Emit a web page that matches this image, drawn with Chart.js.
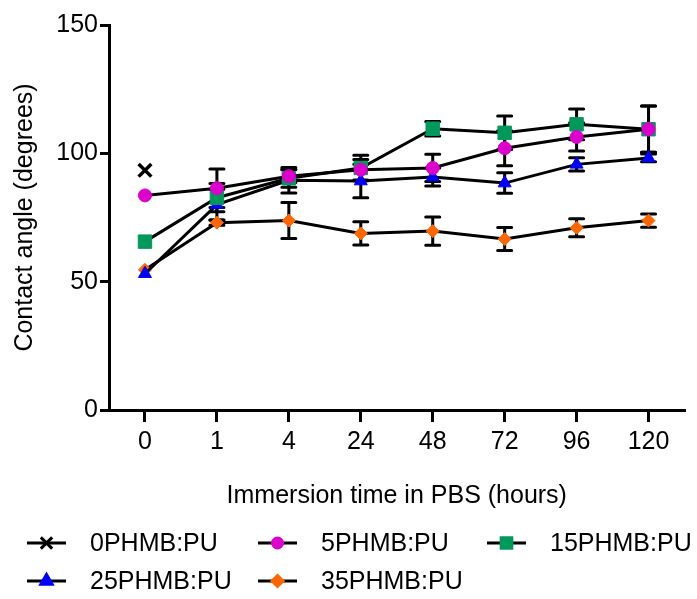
<!DOCTYPE html>
<html>
<head>
<meta charset="utf-8">
<script src="https://cdn.jsdelivr.net/npm/chart.js@4.4.1/dist/chart.umd.min.js"></script>
<style>
  html, body { margin: 0; padding: 0; background: #fff; }
  #wrap { width: 697px; height: 599px; }
</style>
</head>
<body>
<div id="wrap"><canvas id="chart"></canvas></div>
<script>
// categories (hours in PBS)
const timeLabels = ['0', '1', '4', '24', '48', '72', '96', '120'];
const seriesNames = ['0PHMB:PU', '5PHMB:PU', '15PHMB:PU', '25PHMB:PU', '35PHMB:PU'];
const yTicks = [0, 50, 100, 150];

// mean contact angle and error (degrees)
const pu0 = [93.4, null, null, null, null, null, null, null];
const pu0Err = [0, 0, 0, 0, 0, 0, 0, 0];
const pu5 = [83.6, 86.4, 91.1, 93.6, 94.3, 102.0, 106.4, 109.4];
const pu5Err = [0, 7.5, 2.5, 4.0, 5.3, 6.8, 5.5, 9.0];
const pu15 = [65.6, 82.7, 90.3, 94.3, 109.6, 108.0, 111.3, 109.4];
const pu15Err = [0, 5.5, 3.5, 5.0, 2.8, 6.5, 6.0, 9.0];
const pu25 = [53.1, 80.0, 89.5, 89.2, 90.8, 88.4, 95.7, 98.2];
const pu25Err = [0, 6.0, 5.0, 6.5, 3.5, 4.0, 2.6, 1.5];
const pu35 = [54.6, 73.0, 73.8, 68.8, 69.7, 66.6, 71.0, 73.8];
const pu35Err = [0, 1.0, 7.0, 4.5, 5.5, 4.5, 3.5, 2.6];

const FONT = "'Liberation Sans', Arial, sans-serif";

const styles = [
    { pointStyle: 'crossRot', radius: 9, color: '#000000', legendRadius: 8 },
    { pointStyle: 'circle', radius: 6.5, color: '#dd00cc', legendRadius: 5 },
    { pointStyle: 'rect', radius: 9.5, color: '#00995c', legendRadius: 7.5 },
    { pointStyle: 'triangle', radius: 7.5, color: '#0000ff', legendRadius: 6.5 },
    { pointStyle: 'rectRot', radius: 6.5, color: '#ff6600', legendRadius: 5.5 }
];
const values = [pu0, pu5, pu15, pu25, pu35];
const errors = [pu0Err, pu5Err, pu15Err, pu25Err, pu35Err];

const datasets = seriesNames.map(function (name, i) {
    const s = styles[i];
    return {
        label: name,
        data: values[i],
        errors: errors[i],
        borderColor: '#000',
        borderWidth: 3,
        tension: 0,
        pointStyle: s.pointStyle,
        pointRadius: s.radius,
        pointHoverRadius: s.radius,
        pointBackgroundColor: s.color,
        pointBorderColor: s.color,
        pointBorderWidth: i === 0 ? 3.5 : 1
    };
});

// error bars drawn under the lines and markers
const errorBars = {
    id: 'errorBars',
    beforeDatasetsDraw(chart) {
        const ctx = chart.ctx;
        const y = chart.scales.y;
        ctx.save();
        ctx.strokeStyle = '#000';
        ctx.lineWidth = 3;
        ctx.lineCap = 'round';
        chart.data.datasets.forEach(function (ds, i) {
            const meta = chart.getDatasetMeta(i);
            meta.data.forEach(function (pt, j) {
                const v = ds.data[j], e = ds.errors[j];
                if (v == null || !e) return;
                const top = y.getPixelForValue(v + e);
                const bot = y.getPixelForValue(v - e);
                ctx.beginPath();
                ctx.moveTo(pt.x, top); ctx.lineTo(pt.x, bot);
                ctx.moveTo(pt.x - 7, top); ctx.lineTo(pt.x + 7, top);
                ctx.moveTo(pt.x - 7, bot); ctx.lineTo(pt.x + 7, bot);
                ctx.stroke();
            });
        });
        ctx.restore();
    }
};

// legend in a fixed 3-column grid like the original
const gridLegend = {
    id: 'gridLegend',
    afterDraw(chart) {
        const ctx = chart.ctx;
        const cols = [27, 258, 487];
        const rows = [543, 581];
        ctx.save();
        seriesNames.forEach(function (name, i) {
            const x0 = cols[i % 3], yy = rows[Math.floor(i / 3)];
            const s = styles[i];
            ctx.strokeStyle = '#000';
            ctx.lineWidth = 3;
            ctx.beginPath();
            ctx.moveTo(x0, yy); ctx.lineTo(x0 + 39, yy);
            ctx.stroke();
            ctx.fillStyle = s.color;
            ctx.strokeStyle = s.color;
            Chart.helpers.drawPoint(ctx, {
                pointStyle: s.pointStyle,
                radius: s.legendRadius,
                borderWidth: i === 0 ? 3.5 : 1,
                rotation: 0
            }, x0 + 19.5, yy);
            ctx.fillStyle = '#000';
            ctx.font = '25px ' + FONT;
            ctx.textBaseline = 'middle';
            ctx.textAlign = 'left';
            ctx.fillText(name, x0 + 63, yy + 1);
        });
        ctx.restore();
    }
};

new Chart(document.getElementById('chart'), {
    type: 'line',
    data: { labels: timeLabels, datasets: datasets },
    plugins: [errorBars, gridLegend],
    options: {
        responsive: true,
        maintainAspectRatio: false,
        animation: false,
        layout: { padding: { top: 25, left: 0, right: 7, bottom: 88 } },
        plugins: {
            legend: { display: false },
            tooltip: { enabled: false }
        },
        scales: {
            x: {
                offset: true,
                grid: { drawOnChartArea: false, color: '#000', lineWidth: 3, tickLength: 12, offset: false },
                border: { color: '#000', width: 3 },
                ticks: { color: '#000', font: { family: FONT, size: 25 }, padding: 5, maxRotation: 0 },
                title: {
                    display: true,
                    text: 'Immersion time in PBS (hours)',
                    color: '#000',
                    font: { family: FONT, size: 25 },
                    padding: { top: 19, bottom: 0 }
                }
            },
            y: {
                min: 0,
                max: 150,
                afterBuildTicks(scale) {
                    scale.ticks = yTicks.map(function (v) { return { value: v }; });
                },
                afterFit(scale) { scale.width = 109; },
                grid: { drawOnChartArea: false, color: '#000', lineWidth: 3, tickLength: 9 },
                border: { color: '#000', width: 3 },
                ticks: { color: '#000', font: { family: FONT, size: 25 }, padding: 2 },
                title: {
                    display: true,
                    text: 'Contact angle (degrees)',
                    color: '#000',
                    font: { family: FONT, size: 25 },
                    padding: { top: 10, bottom: 0 }
                }
            }
        }
    }
});
</script>
</body>
</html>
